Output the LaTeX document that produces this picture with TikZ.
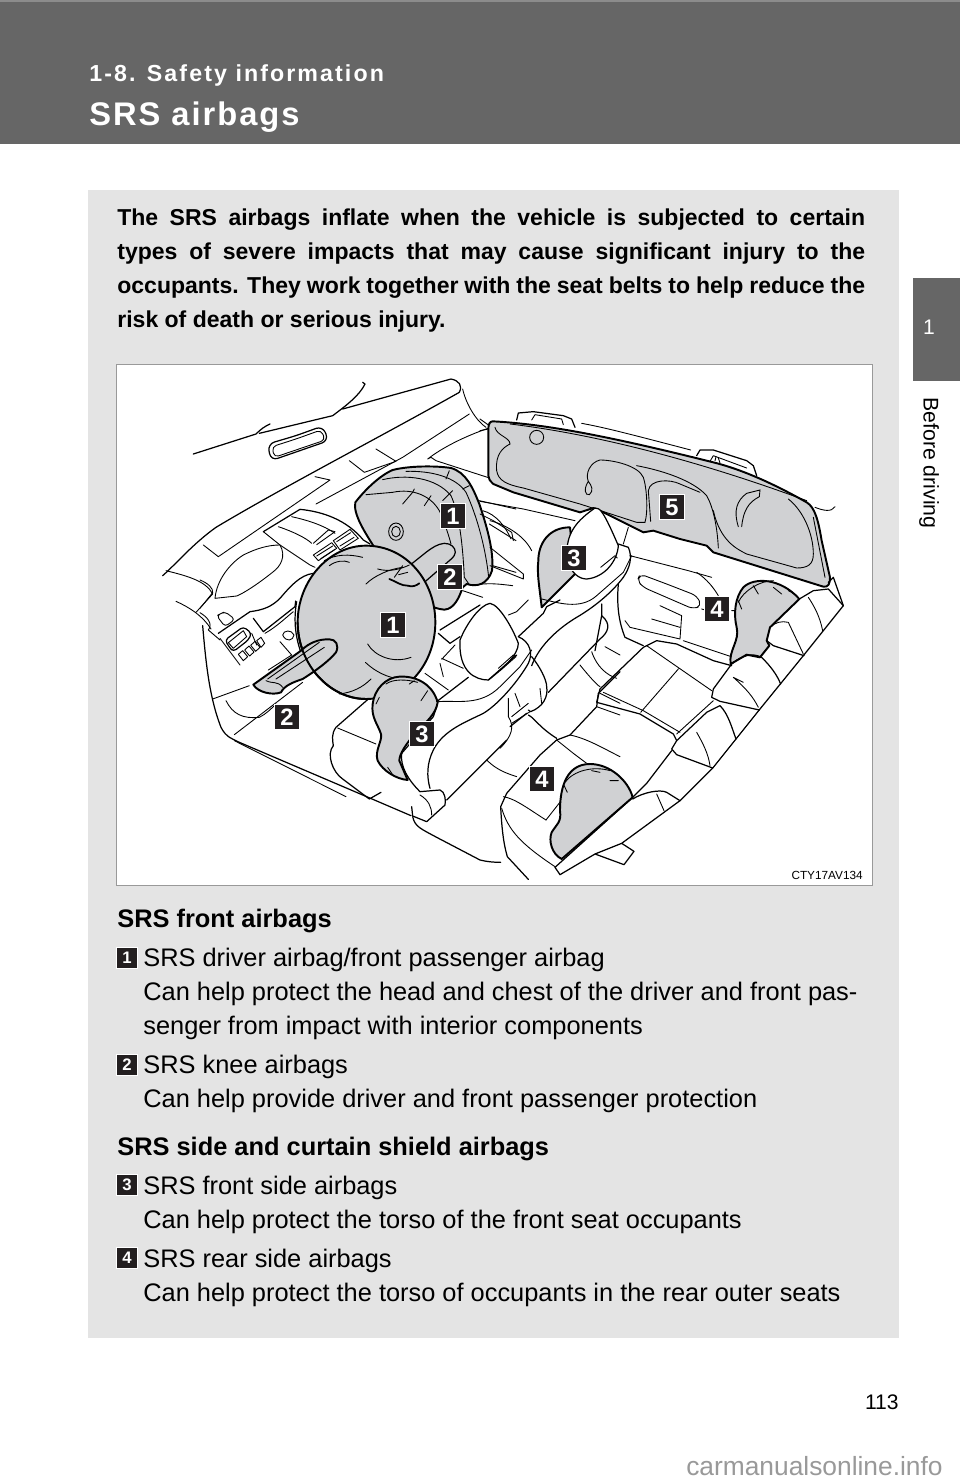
\documentclass[tikz,border=0pt]{standalone}
\usepackage{fontspec}
\setmainfont{Liberation Sans}
\newfontfamily\chapfont[LetterSpace=9]{Liberation Sans}
\newfontfamily\titlefont[LetterSpace=6]{Liberation Sans}
\usepackage{tikz}
\usetikzlibrary{positioning}

\definecolor{headgrey}{HTML}{666666}
\definecolor{panelgrey}{HTML}{E4E4E4}
\definecolor{baggrey}{HTML}{D0D1D3}
\definecolor{framegrey}{HTML}{999999}
\definecolor{markgrey}{HTML}{999999}
\definecolor{inkblack}{HTML}{231F20}

\tikzset{
  cropat/.style 2 args={shift={(#1,#2)},scale=0.33333},
  thin line/.style={line width=0.5pt,line join=round,line cap=round},
  seat line/.style={line width=0.7pt,line join=round,line cap=round},
  bag/.style={fill=baggrey,draw=black,line width=1.1pt,line join=round},
  bag inner/.style={line width=0.5pt,line cap=round},
  bigbadge/.style={fill=inkblack,draw=white,line width=0.7pt,text=white,inner sep=0pt,minimum size=14pt,font=\fontsize{13.5}{13.5}\bfseries\selectfont},
  smallbadge/.style={fill=inkblack,draw=white,line width=0.4pt,text=white,inner sep=0pt,minimum size=11.6pt,font=\fontsize{9.5}{9.5}\bfseries\selectfont},
  bodyline/.style={anchor=base west,inner sep=0pt,font=\fontsize{14.45}{19}\selectfont},
  headline/.style={anchor=base west,inner sep=0pt,font=\fontsize{14.45}{19}\bfseries\selectfont}
}

\begin{document}
\begin{tikzpicture}[x=0.02cm,y=-0.02cm]
\useasboundingbox (0,0) rectangle (960,1484);

% header band and side tab
\fill[white] (0,0) rectangle (960,1484);
\fill[headgrey] (0,0) rectangle (960,144);
\fill[black!45] (0,0) rectangle (960,2);
\fill[headgrey] (913,278) rectangle (960,381);
\node[anchor=base west,inner sep=0pt,text=white] (chapter) at (89,81) {\fontsize{13.2}{15}\chapfont\bfseries 1-8. Safety information};
\node[anchor=base west,inner sep=0pt,text=white] (title) at (89,125) {\fontsize{18.6}{21}\titlefont\bfseries SRS airbags};
\node[text=white,inner sep=0pt,font=\fontsize{12}{14}\selectfont] (tabnum) at (929,327) {1};
\node[rotate=-90,anchor=west,inner sep=0pt,font=\fontsize{12.1}{14}\selectfont] (tabtext) at (929,397) {Before driving};

% grey panel and picture frame
\fill[panelgrey] (88,190) rectangle (899,1338);
\draw[fill=white,draw=framegrey,line width=0.5pt] (116,364) rectangle (872,885);

\node[anchor=north west,inner sep=0pt,text width=14.96cm,align=justify,font=\fontsize{13.1}{19.35}\bfseries\selectfont] (intro) at (117,208)
{The SRS airbags inflate when the vehicle is subjected to certain\linebreak types of severe impacts that may cause significant injury to the\linebreak occupants. They work together with the seat belts to help reduce the\linebreak risk of death or serious injury.};

% windshield, mirror, dash
\begin{scope}[cropat={116}{364}]
\draw[seat line] (232,270) -- (420,210) .. controls (435,195) and (445,188) .. (462,180);
\draw[seat line] (430,208) -- (650,155) .. controls (690,125) and (730,95) .. (747,60) -- (740,55);
\draw[seat line] (680,135) -- (1005,45) .. controls (1030,50) and (1040,65) .. (1030,85) .. controls (800,215) and (500,370) .. (300,490) .. controls (230,540) and (180,600) .. (140,635);
\draw[seat line,rounded corners=4pt] (540,215) -- (620,186) -- (638,230) -- (465,290) -- (455,240) -- cycle;
\draw[thin line,rounded corners=2.5pt] (540,225) -- (615,198) -- (628,228) -- (475,280) -- (468,248) -- cycle;
\draw[thin line] (600,420) -- (860,280) -- (1060,150);
\draw[thin line] (1040,75) .. controls (1050,120) and (1080,170) .. (1110,190);
\draw[thin line] (1125,190) .. controls (1050,215) and (980,250) .. (935,285) -- (945,280) -- (960,290) -- (1130,345);
\draw[thin line] (780,255) -- (840,292) -- (745,325) -- (700,290);
% lower dash left
\draw[thin line] (150,620) .. controls (210,635) and (270,650) .. (290,690) -- (240,745);
\draw[thin line] (180,712) .. controls (220,730) and (260,755) .. (285,795);
\draw[seat line] (260,785) .. controls (270,900) and (280,1000) .. (315,1090) .. controls (330,1120) and (350,1125) .. (370,1135) -- (780,1310) -- (885,1355);
\draw[thin line] (290,1005) -- (400,965);
\draw[thin line] (355,1112) -- (560,955);
\draw[thin line] (330,1010) .. controls (350,1050) and (380,1065) .. (430,1060) .. controls (450,1050) and (465,1035) .. (480,1020);
\draw[thin line] (355,1130) -- (690,1298);
% driver seat cushion
\draw[seat line] (780,985) -- (660,1090) .. controls (645,1110) and (650,1130) .. (652,1145);
\draw[seat line] (652,1145) .. controls (630,1170) and (650,1225) .. (680,1245) -- (760,1305) -- (795,1285);
\draw[thin line] (665,1092) -- (780,1140);
% behind the front passenger bag
\draw[thin line] (1090,410) -- (1200,435);
\draw[thin line] (1100,440) .. controls (1140,450) and (1170,490) .. (1185,525);
\draw[thin line] (1120,480) -- (1200,530);
\draw[thin line] (1130,605) -- (1200,625);
\draw[thin line] (1070,665) .. controls (1110,655) and (1150,660) .. (1190,665);
\draw[thin line] (1040,680) -- (1100,700);
\end{scope}

% dash detail
\begin{scope}[cropat={200}{470}]
\draw[thin line] (10,225) -- (55,260) -- (390,30) -- (345,20);
\draw[seat line] (190,185) -- (300,118) .. controls (370,125) and (440,150) .. (490,210) -- (510,222);
\draw[thin line] (190,185) -- (240,225) -- (330,285) -- (345,292);
\draw[thin line] (235,170) .. controls (280,185) and (320,205) .. (335,220);
\draw[thin line] (275,140) .. controls (320,150) and (370,165) .. (405,190);
\draw[thin line] (340,255) -- (395,218) -- (410,235) -- (355,272) -- cycle;
\draw[thin line] (400,212) -- (450,178) -- (475,205) -- (420,240) -- cycle;
\draw[thin line] (350,258) -- (398,228) (362,266) -- (405,238) (410,215) -- (452,188) (420,228) -- (462,202);
\draw[thin line] (340,220) -- (385,180) -- (405,185) -- (350,224);
\draw[thin line] (240,225) .. controls (260,260) and (240,290) .. (220,305) .. controls (170,345) and (130,370) .. (110,378) -- (45,385) .. controls (50,330) and (90,280) .. (130,255) .. controls (170,235) and (205,225) .. (240,225);
\draw[thin line] (0,330) .. controls (25,340) and (40,355) .. (38,368) -- (0,415);
\draw[thin line] (0,428) .. controls (20,440) and (40,460) .. (25,480) -- (60,510);
\draw[thin line,rounded corners=2pt] (62,431) -- (75,425) -- (105,448) -- (75,470) -- (50,437) -- cycle;
\draw[seat line] (340,310) .. controls (300,315) and (270,350) .. (240,385) .. controls (215,410) and (190,420) .. (150,425) -- (55,490);
\draw[seat line] (160,445) -- (190,485) -- (285,410) -- (287,393);
\draw[seat line,rounded corners=2pt] (100,492) -- (130,470) -- (155,490) -- (145,510) -- (100,545) -- (88,532) -- (75,510) -- cycle;
\draw[thin line] (85,518) -- (130,482) -- (140,500) -- (100,535) -- cycle;
\draw[thin line] (115,553) -- (128,542) -- (143,560) -- (130,572) -- cycle;
\draw[thin line] (134,540) -- (147,528) -- (162,546) -- (149,558) -- cycle;
\draw[thin line] (152,526) -- (165,514) -- (180,532) -- (167,544) -- cycle;
\draw[thin line] (170,512) -- (183,502) -- (194,520) -- (183,532) -- cycle;
\draw[thin line] (155,490) -- (170,525);
\draw[thin line] (195,490) .. controls (230,470) and (255,445) .. (280,425);
\draw[thin line] (248,495) .. controls (250,480) and (275,478) .. (282,495) .. controls (280,512) and (258,518) .. (248,495);
\draw[thin line] (240,515) -- (275,555) -- (205,600);
\draw[thin line] (60,505) -- (120,585);
\draw[seat line] (290,395) .. controls (280,450) and (285,510) .. (312,570);
\end{scope}

% front passenger bag, knee bag and driver bag
\begin{scope}[cropat={116}{364}]
\draw[bag] (718,415) .. controls (745,380) and (790,335) .. (830,318) .. controls (880,305) and (960,305) .. (1005,312) .. controls (1050,325) and (1070,370) .. (1090,420) .. controls (1110,480) and (1135,560) .. (1128,620) .. controls (1115,660) and (1085,670) .. (1052,660) -- (1040,670) .. controls (1030,700) and (1015,735) .. (985,737) .. controls (965,735) and (950,730) .. (935,720) -- (775,550) .. controls (750,510) and (710,450) .. (718,415) -- cycle;
\draw[bag inner] (750,392) -- (830,385) .. controls (890,372) and (950,395) .. (975,450) .. controls (990,490) and (1000,520) .. (1005,540);
\draw[bag inner] (800,347) .. controls (870,330) and (960,340) .. (1005,395) .. controls (1030,450) and (1040,540) .. (1045,640) -- (1060,662);
\draw[bag inner] (870,322) .. controls (950,320) and (1020,340) .. (1050,385) .. controls (1085,460) and (1110,560) .. (1118,640);
\draw[bag inner] (860,420) -- (890,385) -- (895,375) (925,425) -- (945,395) (980,410) -- (1010,380) (1040,375) -- (1060,365) (990,345) -- (1000,320);
\draw[bag inner] (840,503) ellipse [x radius=22,y radius=26];
\draw[bag inner] (840,503) ellipse [x radius=13,y radius=16];
\draw[seat line,fill=baggrey] (880,605) -- (930,565) .. controls (950,550) and (965,540) .. (985,538) .. controls (1005,538) and (1018,550) .. (1018,565) .. controls (1015,580) and (1005,585) .. (1000,590) -- (925,655);
\draw[bag] (545,775) .. controls (545,650) and (640,545) .. (750,545) .. controls (870,545) and (958,650) .. (958,775) .. controls (958,900) and (870,1005) .. (750,1005) .. controls (640,1005) and (545,900) .. (545,775) -- cycle;
\draw[bag inner] (625,590) .. controls (660,570) and (700,570) .. (740,580);
\draw[bag inner] (640,605) .. controls (660,590) and (685,588) .. (700,595);
\draw[bag inner] (750,660) .. controls (775,635) and (820,615) .. (860,610);
\draw[bag inner] (785,615) .. controls (820,625) and (855,615) .. (880,603);
\draw[bag inner] (835,640) -- (860,605) (848,632) -- (875,625);
\draw[line width=1pt,line cap=round] (820,645) .. controls (845,655) and (855,665) .. (875,665) .. controls (890,670) and (900,665) .. (910,658);
\draw[bag inner] (755,840) .. controls (775,875) and (830,900) .. (885,880);
\draw[bag inner] (748,895) .. controls (780,925) and (815,940) .. (850,945);
\draw[bag inner] (670,990) .. controls (710,985) and (740,970) .. (765,945);
\draw[bag] (412,962) .. controls (425,985) and (470,995) .. (495,985) .. controls (505,965) and (530,955) .. (560,945) .. controls (600,920) and (640,890) .. (660,865) .. controls (670,845) and (660,825) .. (640,826) .. controls (610,825) and (580,835) .. (555,860) -- cycle;
\draw[bag inner] (455,945) -- (610,835);
\draw[bag inner] (480,945) -- (625,850);
\draw[bag inner] (450,950) .. controls (470,960) and (485,950) .. (500,970);
\draw[line width=1.1pt] (545,775) .. controls (545,900) and (640,1005) .. (750,1005);
% driver side bag
\draw[bag] (770,1020) .. controls (775,975) and (810,940) .. (850,938) .. controls (900,935) and (950,960) .. (965,1015) .. controls (960,1050) and (930,1075) .. (900,1105) .. controls (870,1140) and (850,1170) .. (850,1190) -- (875,1248) .. controls (840,1245) and (800,1220) .. (785,1190) .. controls (775,1160) and (800,1130) .. (795,1110) .. controls (785,1080) and (765,1060) .. (770,1020) -- cycle;
\draw[bag inner] (810,960) .. controls (830,945) and (870,945) .. (905,955) (915,1010) -- (935,980) (880,960) -- (895,950) (790,1000) -- (780,1020) (815,1210) -- (830,1232);
\end{scope}

% driver seat and rear left seat
\begin{scope}[cropat={400}{600}]
\draw[seat line,fill=white] (180,120) .. controls (200,70) and (240,15) .. (270,10) .. controls (300,15) and (340,90) .. (355,130) .. controls (355,165) and (310,205) .. (265,240) .. controls (225,240) and (175,215) .. (180,120) -- cycle;
\draw[thin line] (295,205) -- (340,165) -- (348,170) -- (300,212);
\draw[seat line] (115,100) -- (150,130) -- (180,110);
\draw[thin line] (125,175) -- (190,205) (120,190) -- (130,230) (75,220) -- (145,270) (125,178) -- (165,135);
\draw[seat line] (120,90) -- (200,40) -- (240,15);
\draw[thin line] (325,45) -- (350,35) -- (385,0);
\draw[seat line] (110,305) -- (205,232);
\draw[seat line] (265,240) -- (350,165);
\draw[seat line] (355,110) .. controls (390,125) and (400,160) .. (385,190) .. controls (360,235) and (300,310) .. (250,340) .. controls (200,365) and (130,390) .. (100,450) .. controls (80,490) and (80,530) .. (90,565);
\draw[thin line] (115,305) .. controls (170,300) and (240,320) .. (300,260) -- (360,200) -- (395,150);
\draw[seat line] (355,110) -- (430,40) -- (440,20) -- (480,0);
\draw[seat line] (140,600) -- (320,420);
\draw[seat line] (330,380) -- (380,340);
\draw[seat line] (5,460) -- (100,350) -- (110,320);
\draw[seat line] (5,460) .. controls (0,500) and (25,540) .. (60,575) -- (120,570) .. controls (135,575) and (138,600) .. (135,615) -- (80,665) -- (38,648) -- (35,620);
\draw[thin line] (60,585) .. controls (85,600) and (95,620) .. (95,645);
\draw[seat line] (38,650) .. controls (45,680) and (60,685) .. (110,712) -- (240,780) .. controls (260,785) and (280,787) .. (302,787);
\draw[seat line] (395,170) .. controls (420,200) and (440,240) .. (440,260) .. controls (445,290) and (430,320) .. (392,335) -- (385,330);
\draw[thin line] (325,295) -- (325,350) .. controls (345,380) and (335,410) .. (300,445);
\draw[thin line] (345,280) -- (360,320) (335,350) -- (385,310) (335,370) -- (390,335) (420,265) -- (425,310);
\draw[seat line] (385,345) .. controls (405,355) and (415,380) .. (470,415);
\draw[seat line] (470,420) -- (510,405) -- (590,320) -- (595,280) -- (660,215);
\draw[seat line] (470,420) -- (420,465) -- (320,580) -- (302,620) .. controls (305,680) and (310,730) .. (322,770) -- (385,838);
\draw[thin line] (305,625) .. controls (325,690) and (360,730) .. (465,800);
\draw[thin line] (310,590) .. controls (345,595) and (390,630) .. (438,660);
\draw[thin line] (260,480) .. controls (290,510) and (320,520) .. (350,530);
\draw[thin line] (470,420) -- (520,460) -- (560,490);
\draw[thin line] (510,405) .. controls (560,415) and (610,445) .. (660,470);
\draw[thin line] (438,660) -- (485,600);
\draw[thin line] (575,155) .. controls (590,200) and (620,225) .. (650,235);
\draw[thin line] (540,195) .. controls (560,220) and (590,255) .. (600,260);
\draw[thin line] (600,280) -- (660,310) (590,320) -- (660,345);
\draw[thin line] (615,140) -- (660,165);
\end{scope}

% curtain bag, rear seat and side bags
\begin{scope}[cropat={480}{364}]
\draw[thin line] (0,165) -- (28,185) (0,200) -- (25,195);
\draw[seat line] (110,168) -- (115,147) -- (160,143) -- (250,155) -- (275,165) -- (285,190);
\draw[thin line] (155,168) -- (165,152) -- (245,165) -- (250,182);
\draw[thin line] (305,178) .. controls (370,190) and (430,205) .. (632,258);
\draw[seat line] (650,275) -- (660,258) -- (700,258) -- (800,290) -- (820,305) -- (830,335);
\draw[thin line] (690,292) -- (700,275) -- (800,312);
\draw[thin line] (715,282) -- (720,297) (705,290) -- (708,278);
\draw[thin line] (1005,430) .. controls (1030,440) and (1055,445) .. (1065,428);
\draw[bag,fill=baggrey] (38,172) .. controls (200,180) and (400,220) .. (700,295) .. controls (800,320) and (900,370) .. (980,415) .. controls (1005,430) and (1015,470) .. (1025,530) -- (1050,640) .. controls (1050,660) and (1045,670) .. (1030,668) -- (700,565) -- (680,545) -- (600,525) -- (520,500) -- (490,505) -- (370,445) -- (340,432) -- (300,445) -- (100,385) -- (40,360) .. controls (30,350) and (25,345) .. (25,335) -- (25,195) .. controls (25,180) and (30,172) .. (38,172) -- cycle;
\draw[bag inner] (90,180) .. controls (300,205) and (600,270) .. (980,410);
\draw[bag inner] (45,190) .. controls (50,215) and (90,220) .. (90,240) .. controls (70,250) and (45,270) .. (50,320) .. controls (55,350) and (80,362) .. (130,372) -- (300,420) -- (470,475) -- (495,475) .. controls (505,440) and (500,370) .. (490,340) .. controls (475,305) and (400,288) .. (360,288) .. controls (330,295) and (315,330) .. (325,352) .. controls (310,375) and (315,395) .. (328,392) .. controls (342,380) and (335,365) .. (325,352);
\draw[bag inner] (470,305) .. controls (550,320) and (640,350) .. (680,395) .. controls (700,430) and (712,490) .. (715,552);
\draw[bag inner] (512,472) -- (505,380) .. controls (510,345) and (570,345) .. (600,360) -- (660,385);
\draw[bag inner] (700,440) .. controls (720,530) and (770,555) .. (800,570) -- (950,612) .. controls (985,612) and (1000,600) .. (1000,570) .. controls (1000,510) and (970,440) .. (925,405);
\draw[bag inner] (170,220) circle [radius=21];
\draw[bag inner] (775,488) .. controls (760,440) and (770,410) .. (800,388) -- (840,378) -- (838,398) .. controls (805,415) and (790,440) .. (785,488);
\draw[bag inner] (1000,460) -- (1035,640);
% passenger side bag with headrest
\draw[bag] (185,730) .. controls (180,680) and (170,630) .. (175,590) .. controls (175,540) and (205,490) .. (270,490) -- (285,630) -- cycle;
\draw[seat line,fill=white] (345,432) .. controls (360,430) and (372,445) .. (415,545) .. controls (412,590) and (375,640) .. (320,645) .. controls (300,645) and (270,630) .. (262,580) .. controls (255,510) and (290,470) .. (345,432) -- cycle;
\draw[thin line] (362,610) -- (405,575) -- (412,582);
\draw[seat line] (415,540) -- (445,550) .. controls (458,580) and (450,610) .. (430,640) .. controls (400,680) and (350,725) .. (290,760) .. controls (240,790) and (180,840) .. (155,905);
\draw[thin line] (185,705) .. controls (230,715) and (300,740) .. (350,695) -- (430,625) -- (455,575);
\draw[seat line] (205,985) -- (360,825) .. controls (385,805) and (395,780) .. (365,755) -- (365,720);
\draw[seat line] (365,755) -- (345,860);
\draw[thin line] (0,412) -- (130,435) -- (285,470);
\draw[thin line] (0,450) -- (40,470) -- (95,505) -- (100,530);
\draw[thin line] (30,470) .. controls (70,480) and (130,510) .. (155,560);
\draw[thin line] (30,550) -- (130,630) -- (130,645) -- (30,605);
\draw[thin line] (445,490) -- (430,540);
\draw[thin line] (450,575) -- (625,620) -- (695,640);
\draw[thin line,rounded corners=3pt] (560,660) -- (650,695) -- (665,725) -- (640,735) -- (490,670) -- (472,650) -- (480,630) -- cycle;
\draw[thin line] (650,625) .. controls (680,645) and (700,670) .. (715,695);
\draw[seat line] (415,660) .. controls (410,720) and (415,770) .. (435,820) -- (490,845);
\draw[thin line] (435,770) -- (450,790) -- (600,825) -- (605,755) -- (540,725);
\draw[thin line] (515,765) -- (600,790);
\draw[thin line] (610,830) -- (760,880);
\draw[thin line] (665,735) -- (690,742) (755,740) -- (775,740);
% rear right bag
\draw[bag] (752,900) .. controls (745,860) and (780,830) .. (770,790) .. controls (760,750) and (765,700) .. (790,670) .. controls (820,640) and (900,640) .. (958,705) -- (870,790) -- (860,830) -- (868,845) -- (840,880) -- (800,872) -- cycle;
\draw[bag inner] (775,715) .. controls (790,680) and (840,650) .. (880,650) (775,710) -- (785,735) (820,665) -- (835,690) (880,670) -- (905,690) (925,680) -- (945,690);
% rear left bag
\draw[bag] (245,1485) .. controls (215,1470) and (205,1430) .. (215,1405) .. controls (230,1380) and (245,1375) .. (240,1340) .. controls (240,1290) and (250,1200) .. (330,1200) .. controls (390,1200) and (445,1250) .. (458,1300) -- cycle;
\draw[bag inner] (255,1255) .. controls (280,1220) and (340,1205) .. (390,1220) (250,1260) -- (262,1285) (335,1220) -- (360,1225) (390,1250) -- (415,1250);
% rear seat edges
\draw[seat line] (225,1510) -- (458,1300) -- (500,1258) -- (575,1160);
\draw[seat line] (1090,725) -- (970,875) -- (840,1035) -- (700,1210) -- (600,1310) -- (425,1438);
\draw[seat line] (1090,725) -- (1060,640) -- (1045,655);
\draw[seat line] (240,1532) -- (225,1510);
\draw[seat line] (240,1532) -- (345,1470) -- (432,1502) -- (462,1462) -- (425,1438) -- (345,1470);
\draw[seat line] (458,1305) .. controls (490,1285) and (540,1275) .. (560,1285) -- (600,1310);
\draw[thin line] (530,1290) -- (552,1340);
\draw[seat line] (958,705) -- (1000,680) -- (1045,675) -- (1090,725);
\draw[seat line] (860,830) -- (880,845) -- (972,875);
\draw[thin line] (985,700) .. controls (1005,730) and (1020,760) .. (1028,800);
\draw[thin line] (925,775) -- (970,870) (870,790) .. controls (885,775) and (905,770) .. (925,775);
\draw[seat line] (755,900) -- (700,975) -- (695,1000) -- (720,1012) -- (838,1038);
\draw[seat line] (755,900) .. controls (785,875) and (815,865) .. (845,880) .. controls (870,905) and (890,930) .. (902,960);
\draw[thin line] (760,940) .. controls (800,975) and (820,1000) .. (835,1030) (790,955) -- (760,940);
\draw[seat line] (590,1130) -- (575,1155) -- (590,1172) -- (698,1212);
\draw[seat line] (590,1130) -- (680,1045) -- (720,1025) .. controls (745,1050) and (755,1090) .. (768,1125);
\draw[thin line] (650,1105) .. controls (670,1140) and (685,1170) .. (690,1205) (590,1110) -- (700,1010);
\draw[seat line] (360,975) -- (490,850) -- (530,830) -- (590,840) -- (700,890) -- (755,905);
\draw[thin line] (595,915) -- (482,1045) (500,845) -- (695,980);
\draw[seat line] (360,975) -- (350,1015) -- (480,1050) -- (580,1110) -- (590,1130);
\draw[thin line] (370,985) -- (490,1040) -- (600,1105);
\end{scope}

\node[bigbadge] (badgea) at (453,516) {1};
\node[bigbadge] (badgeb) at (450,577) {2};
\node[bigbadge] (badgec) at (393,625) {1};
\node[bigbadge] (badged) at (287,717) {2};
\node[bigbadge] (badgee) at (422,734) {3};
\node[bigbadge] (badgef) at (574,558) {3};
\node[bigbadge] (badgeg) at (672,507) {5};
\node[bigbadge] (badgeh) at (717,609) {4};
\node[bigbadge] (badgei) at (542,779) {4};
\node[anchor=base east,inner sep=0pt,font=\fontsize{6.7}{8}\selectfont] (code) at (863,879) {CTY17AV134};

% list under the picture
\node[headline] (fronthead) at (117,927) {SRS front airbags};
\node[smallbadge] (lista) at (127,958) {1};
\node[bodyline] (lineaa) at (143,966) {SRS driver airbag/front passenger airbag};
\node[bodyline] (lineab) at (143,1000) {Can help protect the head and chest of the driver and front pas-};
\node[bodyline] (lineac) at (143,1034) {senger from impact with interior components};
\node[smallbadge] (listb) at (127,1065) {2};
\node[bodyline] (lineba) at (143,1073) {SRS knee airbags};
\node[bodyline] (linebb) at (143,1107) {Can help provide driver and front passenger protection};
\node[headline] (sidehead) at (117,1155) {SRS side and curtain shield airbags};
\node[smallbadge] (listc) at (127,1185) {3};
\node[bodyline] (lineca) at (143,1194) {SRS front side airbags};
\node[bodyline] (linecb) at (143,1228) {Can help protect the torso of the front seat occupants};
\node[smallbadge] (listd) at (127,1258) {4};
\node[bodyline] (lineda) at (143,1267) {SRS rear side airbags};
\node[bodyline] (linedb) at (143,1301) {Can help protect the torso of occupants in the rear outer seats};

\node[anchor=base east,inner sep=0pt,font=\fontsize{12}{14}\selectfont] (pagenum) at (899,1409) {113};
\node[anchor=base east,inner sep=0pt,text=markgrey,font=\fontsize{15}{18}\selectfont] (mark) at (943,1475) {carmanualsonline.info};

\end{tikzpicture}
\end{document}
